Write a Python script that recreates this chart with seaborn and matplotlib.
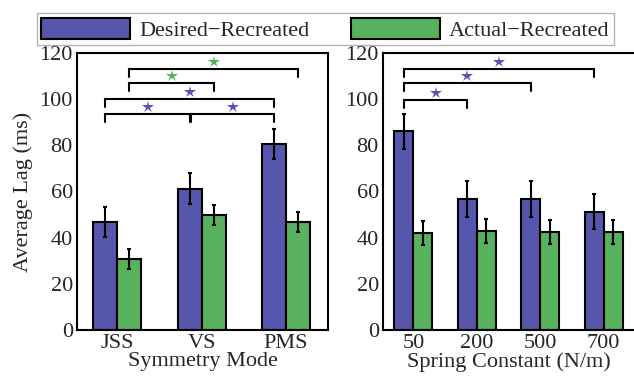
import matplotlib
matplotlib.use("Agg")
import matplotlib.pyplot as plt
from matplotlib.patches import Patch
import pandas as pd
import seaborn as sns

# values
modes = ["JSS", "VS", "PMS"]
mode_desired = [46.7, 61.2, 80.5]
mode_desired_err = [6.5, 6.8, 6.6]
mode_actual = [30.7, 49.8, 46.7]
mode_actual_err = [4.3, 4.3, 4.3]

springs = ["50", "200", "500", "700"]
spring_desired = [86.0, 56.8, 56.8, 51.3]
spring_desired_err = [7.7, 7.7, 7.7, 7.6]
spring_actual = [42.0, 42.8, 42.3, 42.3]
spring_actual_err = [5.2, 5.2, 5.2, 5.2]

series = ["Desired\u2212Recreated", "Actual\u2212Recreated"]
colors = ["#5656ad", "#58b15c"]

# significance brackets: (bar a, bar b, series index, level)
mode_brackets = [(0, 1, 0, 93.6), (1, 2, 0, 93.6), (0, 2, 0, 100.0),
                 (0, 1, 1, 107.2), (0, 2, 1, 113.0)]
spring_brackets = [(0, 1, 0, 99.7), (0, 2, 0, 106.9), (0, 3, 0, 112.9)]

FS = 16

sns.set_style("ticks")
plt.rcParams["font.family"] = ["Liberation Serif", "DejaVu Serif"]

fig = plt.figure(figsize=(6.34, 3.8), dpi=100)
ax1 = fig.add_axes([0.1215, 0.1316, 0.396, 0.729])
ax2 = fig.add_axes([0.604, 0.1316, 0.398, 0.729])


def draw_panel(ax, cats, desired, d_err, actual, a_err, width, brackets, xlabel):
    df = pd.DataFrame({
        "cat": cats * 2,
        "val": desired + actual,
        "series": [series[0]] * len(cats) + [series[1]] * len(cats),
    })
    sns.barplot(data=df, x="cat", y="val", hue="series", order=cats,
                hue_order=series, palette=colors, width=width, gap=0,
                errorbar=None, legend=False, edgecolor="black",
                linewidth=1.5, saturation=1, ax=ax)
    centers = []
    for cont, errs in zip(ax.containers, [d_err, a_err]):
        xs = [p.get_x() + p.get_width() / 2 for p in cont]
        ys = [p.get_height() for p in cont]
        ax.errorbar(xs, ys, yerr=errs, fmt="none", ecolor="black",
                    elinewidth=1.5, capsize=1.5, capthick=1.5, zorder=5)
        centers.append(xs)
    leg = 3.5
    for a, b, s, level in brackets:
        xa, xb = centers[s][a], centers[s][b]
        if s == 0 and a == 1:
            xa += 0.02
        ax.plot([xa, xa, xb, xb], [level - leg, level, level, level - leg],
                color="black", lw=1.5, solid_joinstyle="miter", clip_on=False)
        ax.plot((xa + xb) / 2, level + 3, marker="*", color=colors[s],
                markersize=9, markeredgewidth=0, clip_on=False)
    ax.set_ylim(0, 120)
    ax.set_yticks(range(0, 121, 20))
    ax.set_xlim(-0.48, len(cats) - 0.5)
    ax.set_xlabel(xlabel, fontsize=FS, labelpad=-1)
    ax.set_ylabel("")
    ax.tick_params(axis="both", length=0, labelsize=FS, pad=3)
    for sp in ax.spines.values():
        sp.set_visible(True)
        sp.set_linewidth(1.5)
        sp.set_color("black")


draw_panel(ax1, modes, mode_desired, mode_desired_err, mode_actual,
           mode_actual_err, 0.57, mode_brackets, "Symmetry Mode")
draw_panel(ax2, springs, spring_desired, spring_desired_err, spring_actual,
           spring_actual_err, 0.6, spring_brackets, "Spring Constant (N/m)")
ax1.set_ylabel("Average Lag (ms)", fontsize=FS, labelpad=5)

handles = [Patch(facecolor=c, edgecolor="black", linewidth=1.5) for c in colors]
fig.legend(handles, series, loc="upper left", ncol=2,
           bbox_to_anchor=(0.058, 0.965), frameon=True, fancybox=False,
           edgecolor="#a0a0a0", fontsize=FS, handlelength=4.0,
           handleheight=1.1, handletextpad=0.4, columnspacing=1.9,
           borderpad=0.2, borderaxespad=0)

fig.savefig("out.png", dpi=100)
